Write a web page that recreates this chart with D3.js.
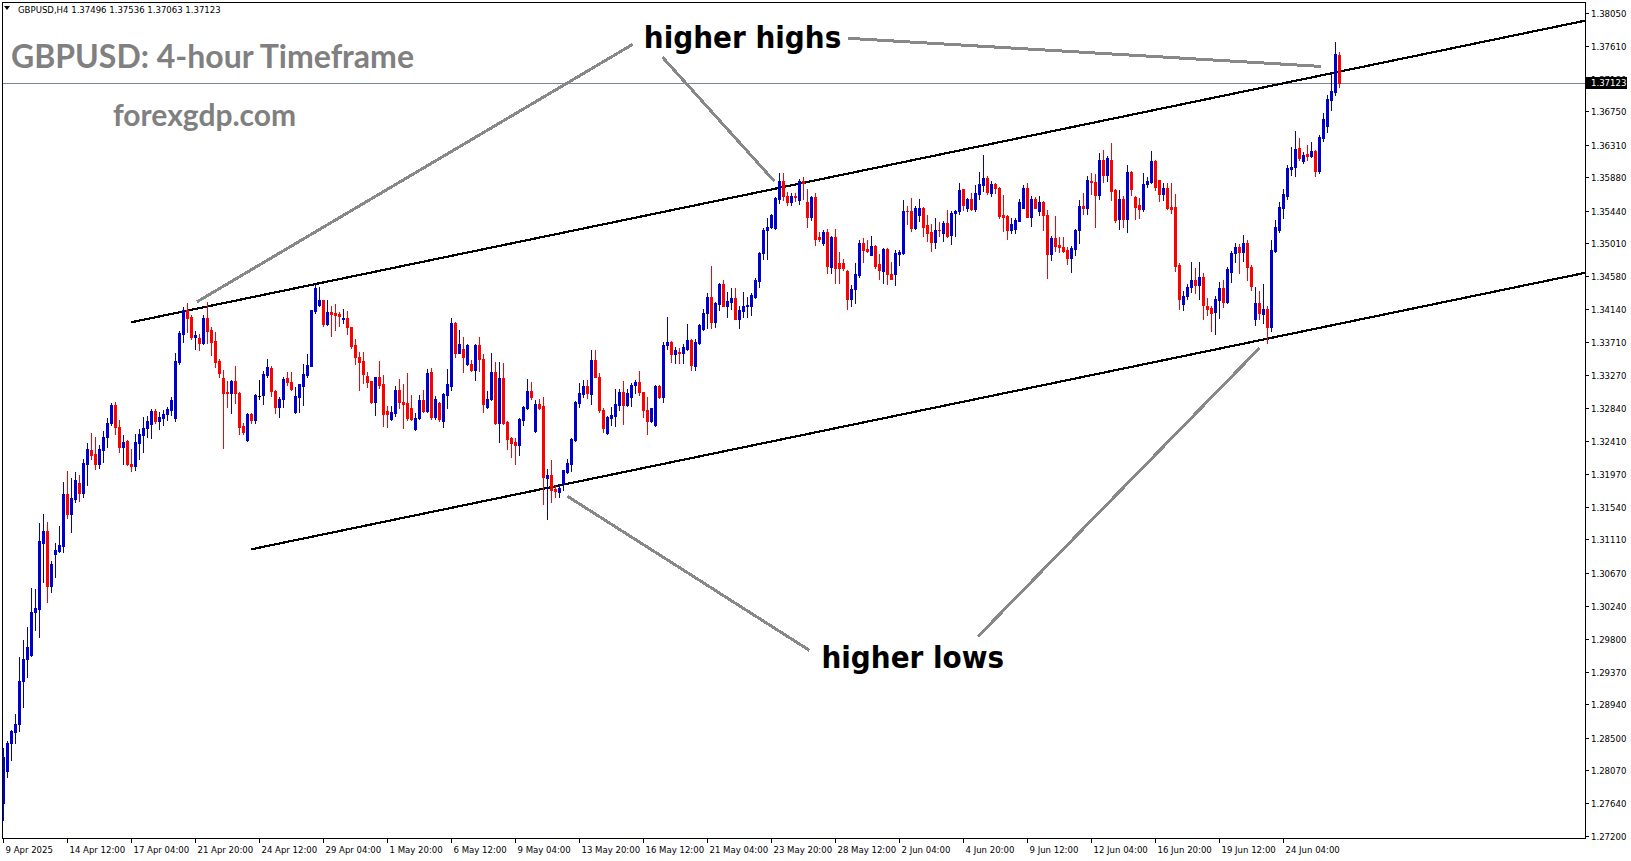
<!DOCTYPE html>
<html><head><meta charset="utf-8">
<script src="https://cdn.jsdelivr.net/npm/d3@7/dist/d3.min.js"></script>
<style>
html,body{margin:0;padding:0;background:#fff;overflow:hidden}
svg{display:block}
.ax{font-family:"DejaVu Sans Condensed","DejaVu Sans",sans-serif;font-stretch:condensed;font-size:9.5px;fill:#000}
</style></head><body>
<svg id="c" width="1631" height="861"></svg>
<script>
// ---- data (GBPUSD, H4) ----
const symbolHeader = "GBPUSD,H4  1.37496 1.37536 1.37063 1.37123";
const openP = [1.2764,1.2806,1.2843,1.2858,1.2868,1.2924,1.2953,1.2959,1.3015,1.3020,1.3106,1.3122,1.3050,1.3092,1.3096,1.3103,1.3171,1.3145,1.3164,1.3185,1.3172,1.3211,1.3229,1.3223,1.3211,1.3229,1.3246,1.3264,1.3288,1.3259,1.3233,1.3241,1.3211,1.3208,1.3238,1.3249,1.3258,1.3263,1.3280,1.3267,1.3271,1.3276,1.3282,1.3271,1.3345,1.3382,1.3413,1.3404,1.3378,1.3377,1.3370,1.3403,1.3387,1.3372,1.3346,1.3324,1.3305,1.3304,1.3320,1.3304,1.3261,1.3242,1.3276,1.3268,1.3300,1.3301,1.3328,1.3337,1.3307,1.3286,1.3296,1.3324,1.3319,1.3279,1.3299,1.3313,1.3328,1.3340,1.3412,1.3420,1.3426,1.3395,1.3411,1.3409,1.3408,1.3401,1.3403,1.3391,1.3367,1.3351,1.3346,1.3326,1.3320,1.3292,1.3325,1.3316,1.3280,1.3270,1.3278,1.3308,1.3292,1.3291,1.3284,1.3257,1.3271,1.3295,1.3280,1.3332,1.3272,1.3291,1.3267,1.3301,1.3313,1.3396,1.3357,1.3362,1.3342,1.3342,1.3334,1.3367,1.3349,1.3285,1.3296,1.3332,1.3264,1.3324,1.3266,1.3245,1.3239,1.3235,1.3268,1.3284,1.3307,1.3254,1.3289,1.3287,1.3192,1.3196,1.3178,1.3174,1.3184,1.3200,1.3210,1.3242,1.3291,1.3303,1.3313,1.3303,1.3347,1.3325,1.3282,1.3251,1.3271,1.3274,1.3288,1.3305,1.3288,1.3299,1.3314,1.3318,1.3305,1.3282,1.3267,1.3262,1.3313,1.3298,1.3367,1.3371,1.3355,1.3358,1.3356,1.3362,1.3374,1.3340,1.3370,1.3388,1.3409,1.3430,1.3397,1.3421,1.3447,1.3418,1.3424,1.3429,1.3402,1.3412,1.3418,1.3418,1.3430,1.3451,1.3488,1.3519,1.3522,1.3521,1.3560,1.3583,1.3564,1.3555,1.3564,1.3558,1.3583,1.3555,1.3536,1.3562,1.3509,1.3501,1.3516,1.3470,1.3509,1.3475,1.3475,1.3465,1.3428,1.3441,1.3459,1.3501,1.3494,1.3486,1.3498,1.3474,1.3465,1.3494,1.3461,1.3461,1.3487,1.3488,1.3544,1.3544,1.3521,1.3538,1.3548,1.3525,1.3516,1.3503,1.3519,1.3515,1.3528,1.3512,1.3541,1.3543,1.3572,1.3548,1.3560,1.3546,1.3566,1.3578,1.3587,1.3567,1.3579,1.3574,1.3538,1.3537,1.3519,1.3520,1.3531,1.3548,1.3574,1.3536,1.3559,1.3544,1.3555,1.3538,1.3487,1.3508,1.3499,1.3496,1.3492,1.3482,1.3494,1.3518,1.3550,1.3547,1.3583,1.3582,1.3565,1.3611,1.3591,1.3611,1.3571,1.3533,1.3559,1.3533,1.3595,1.3562,1.3551,1.3546,1.3579,1.3582,1.3610,1.3584,1.3566,1.3574,1.3549,1.3549,1.3472,1.3421,1.3431,1.3443,1.3453,1.3446,1.3457,1.3418,1.3416,1.3411,1.3426,1.3442,1.3424,1.3463,1.3488,1.3496,1.3490,1.3501,1.3470,1.3401,1.3422,1.3408,1.3414,1.3391,1.3491,1.3518,1.3548,1.3564,1.3599,1.3601,1.3627,1.3610,1.3619,1.3616,1.3623,1.3596,1.3640,1.3656,1.3690,1.3700,1.37496];
const highP = [1.2836,1.2846,1.2860,1.2881,1.2956,1.2979,1.2996,1.3047,1.3046,1.3133,1.3145,1.3134,1.3083,1.3106,1.3129,1.3187,1.3201,1.3192,1.3200,1.3196,1.3217,1.3238,1.3251,1.3246,1.3235,1.3254,1.3271,1.3291,1.3292,1.3268,1.3249,1.3242,1.3230,1.3250,1.3257,1.3272,1.3274,1.3283,1.3283,1.3279,1.3282,1.3285,1.3299,1.3357,1.3386,1.3417,1.3422,1.3407,1.3386,1.3382,1.3407,1.3424,1.3391,1.3384,1.3349,1.3334,1.3320,1.3321,1.3340,1.3305,1.3264,1.3278,1.3277,1.3303,1.3321,1.3333,1.3349,1.3340,1.3308,1.3299,1.3325,1.3332,1.3332,1.3312,1.3316,1.3342,1.3355,1.3413,1.3446,1.3444,1.3426,1.3426,1.3419,1.3421,1.3411,1.3415,1.3412,1.3391,1.3375,1.3358,1.3358,1.3332,1.3320,1.3325,1.3346,1.3328,1.3287,1.3287,1.3313,1.3322,1.3316,1.3330,1.3301,1.3278,1.3301,1.3308,1.3336,1.3337,1.3300,1.3292,1.3304,1.3336,1.3403,1.3397,1.3387,1.3378,1.3368,1.3347,1.3368,1.3378,1.3355,1.3307,1.3357,1.3345,1.3345,1.3343,1.3267,1.3246,1.3245,1.3271,1.3287,1.3322,1.3318,1.3295,1.3296,1.3299,1.3204,1.3216,1.3183,1.3184,1.3203,1.3217,1.3245,1.3293,1.3317,1.3321,1.3321,1.3361,1.3361,1.3330,1.3284,1.3274,1.3286,1.3309,1.3309,1.3320,1.3309,1.3317,1.3321,1.3333,1.3305,1.3298,1.3284,1.3314,1.3314,1.3371,1.3404,1.3372,1.3364,1.3363,1.3368,1.3395,1.3375,1.3375,1.3395,1.3415,1.3436,1.3471,1.3424,1.3449,1.3453,1.3437,1.3442,1.3442,1.3419,1.3437,1.3430,1.3436,1.3455,1.3490,1.3521,1.3534,1.3540,1.3562,1.3594,1.3594,1.3569,1.3567,1.3567,1.3586,1.3588,1.3573,1.3563,1.3567,1.3516,1.3519,1.3520,1.3511,1.3520,1.3490,1.3480,1.3466,1.3446,1.3475,1.3505,1.3508,1.3506,1.3511,1.3499,1.3487,1.3495,1.3495,1.3476,1.3492,1.3492,1.3558,1.3550,1.3561,1.3550,1.3559,1.3549,1.3538,1.3526,1.3534,1.3529,1.3530,1.3545,1.3544,1.3545,1.3580,1.3573,1.3561,1.3567,1.3578,1.3595,1.3617,1.3590,1.3583,1.3581,1.3575,1.3565,1.3538,1.3534,1.3534,1.3560,1.3578,1.3581,1.3564,1.3562,1.3564,1.3557,1.3545,1.3511,1.3537,1.3510,1.3510,1.3496,1.3497,1.3520,1.3558,1.3567,1.3590,1.3594,1.3592,1.3620,1.3624,1.3616,1.3633,1.3573,1.3571,1.3563,1.3604,1.3596,1.3563,1.3561,1.3594,1.3588,1.3623,1.3611,1.3585,1.3580,1.3580,1.3580,1.3566,1.3475,1.3438,1.3448,1.3476,1.3469,1.3476,1.3462,1.3429,1.3419,1.3432,1.3450,1.3453,1.3470,1.3491,1.3501,1.3500,1.3512,1.3506,1.3472,1.3443,1.3438,1.3448,1.3418,1.3506,1.3532,1.3555,1.3573,1.3604,1.3628,1.3649,1.3640,1.3621,1.3630,1.3635,1.3624,1.3644,1.3673,1.3696,1.3725,1.3766,1.37536];
const lowP = [1.2742,1.2798,1.2820,1.2843,1.2859,1.2890,1.2930,1.2958,1.2992,1.2983,1.3055,1.3029,1.3042,1.3062,1.3094,1.3095,1.3139,1.3121,1.3161,1.3162,1.3167,1.3183,1.3217,1.3204,1.3205,1.3213,1.3233,1.3262,1.3250,1.3226,1.3210,1.3209,1.3201,1.3203,1.3217,1.3226,1.3246,1.3245,1.3264,1.3257,1.3262,1.3268,1.3275,1.3267,1.3342,1.3371,1.3384,1.3375,1.3362,1.3361,1.3368,1.3370,1.3354,1.3338,1.3325,1.3232,1.3286,1.3278,1.3291,1.3250,1.3250,1.3241,1.3264,1.3264,1.3296,1.3289,1.3325,1.3300,1.3278,1.3272,1.3286,1.3314,1.3308,1.3278,1.3279,1.3288,1.3325,1.3339,1.3409,1.3419,1.3392,1.3394,1.3379,1.3387,1.3392,1.3396,1.3382,1.3363,1.3342,1.3308,1.3317,1.3312,1.3291,1.3275,1.3310,1.3261,1.3259,1.3269,1.3274,1.3284,1.3258,1.3268,1.3269,1.3255,1.3270,1.3279,1.3279,1.3270,1.3270,1.3267,1.3259,1.3284,1.3308,1.3351,1.3356,1.3332,1.3341,1.3333,1.3321,1.3333,1.3279,1.3284,1.3295,1.3263,1.3239,1.3263,1.3230,1.3220,1.3210,1.3222,1.3262,1.3283,1.3296,1.3253,1.3283,1.3158,1.3138,1.3160,1.3167,1.3167,1.3176,1.3199,1.3201,1.3241,1.3286,1.3299,1.3297,1.3289,1.3325,1.3279,1.3252,1.3250,1.3262,1.3261,1.3281,1.3263,1.3287,1.3287,1.3304,1.3301,1.3272,1.3250,1.3266,1.3261,1.3297,1.3292,1.3362,1.3345,1.3344,1.3344,1.3344,1.3361,1.3334,1.3334,1.3369,1.3387,1.3389,1.3389,1.3391,1.3413,1.3418,1.3404,1.3415,1.3401,1.3390,1.3404,1.3404,1.3407,1.3429,1.3444,1.3480,1.3480,1.3521,1.3520,1.3554,1.3558,1.3552,1.3552,1.3557,1.3553,1.3559,1.3522,1.3532,1.3499,1.3504,1.3499,1.3462,1.3462,1.3449,1.3449,1.3466,1.3415,1.3418,1.3422,1.3457,1.3476,1.3490,1.3485,1.3469,1.3454,1.3449,1.3448,1.3454,1.3446,1.3472,1.3487,1.3526,1.3517,1.3520,1.3530,1.3511,1.3504,1.3491,1.3495,1.3511,1.3504,1.3510,1.3500,1.3511,1.3540,1.3545,1.3543,1.3545,1.3543,1.3560,1.3570,1.3566,1.3563,1.3567,1.3534,1.3517,1.3507,1.3515,1.3515,1.3530,1.3547,1.3536,1.3524,1.3547,1.3538,1.3519,1.3455,1.3479,1.3491,1.3490,1.3490,1.3474,1.3463,1.3485,1.3502,1.3540,1.3540,1.3566,1.3522,1.3559,1.3582,1.3583,1.3558,1.3529,1.3520,1.3523,1.3516,1.3565,1.3533,1.3534,1.3543,1.3575,1.3580,1.3571,1.3557,1.3558,1.3546,1.3541,1.3465,1.3415,1.3413,1.3428,1.3437,1.3436,1.3428,1.3401,1.3407,1.3386,1.3382,1.3403,1.3417,1.3423,1.3450,1.3476,1.3462,1.3478,1.3453,1.3440,1.3394,1.3401,1.3396,1.3370,1.3386,1.3489,1.3516,1.3534,1.3559,1.3591,1.3590,1.3611,1.3607,1.3611,1.3615,1.3590,1.3594,1.3636,1.3648,1.3677,1.3697,1.37063];
const closeP = [1.2825,1.2843,1.2859,1.2868,1.2925,1.2954,1.2969,1.3016,1.3021,1.3109,1.3122,1.3050,1.3079,1.3097,1.3104,1.3171,1.3145,1.3166,1.3189,1.3172,1.3212,1.3230,1.3222,1.3211,1.3230,1.3246,1.3264,1.3288,1.3259,1.3233,1.3239,1.3210,1.3208,1.3239,1.3250,1.3258,1.3267,1.3280,1.3267,1.3272,1.3276,1.3283,1.3295,1.3346,1.3383,1.3413,1.3403,1.3378,1.3380,1.3370,1.3403,1.3386,1.3371,1.3345,1.3330,1.3304,1.3304,1.3320,1.3304,1.3259,1.3252,1.3276,1.3268,1.3301,1.3300,1.3329,1.3338,1.3307,1.3286,1.3296,1.3322,1.3318,1.3309,1.3300,1.3316,1.3329,1.3341,1.3413,1.3442,1.3426,1.3395,1.3411,1.3408,1.3407,1.3405,1.3403,1.3391,1.3366,1.3351,1.3345,1.3329,1.3318,1.3292,1.3325,1.3314,1.3276,1.3276,1.3279,1.3308,1.3292,1.3289,1.3271,1.3270,1.3271,1.3295,1.3280,1.3330,1.3272,1.3296,1.3270,1.3303,1.3316,1.3396,1.3357,1.3368,1.3351,1.3367,1.3334,1.3367,1.3349,1.3289,1.3296,1.3332,1.3264,1.3324,1.3264,1.3243,1.3238,1.3235,1.3270,1.3286,1.3307,1.3299,1.3289,1.3284,1.3193,1.3196,1.3176,1.3175,1.3179,1.3202,1.3212,1.3243,1.3292,1.3304,1.3313,1.3304,1.3347,1.3325,1.3282,1.3258,1.3272,1.3275,1.3289,1.3305,1.3288,1.3304,1.3314,1.3318,1.3305,1.3282,1.3267,1.3284,1.3313,1.3298,1.3367,1.3371,1.3355,1.3361,1.3357,1.3364,1.3374,1.3341,1.3371,1.3394,1.3409,1.3430,1.3397,1.3422,1.3447,1.3419,1.3425,1.3429,1.3402,1.3413,1.3419,1.3420,1.3433,1.3453,1.3488,1.3519,1.3523,1.3538,1.3561,1.3583,1.3563,1.3555,1.3563,1.3562,1.3583,1.3580,1.3536,1.3562,1.3507,1.3507,1.3516,1.3471,1.3509,1.3469,1.3469,1.3469,1.3428,1.3441,1.3461,1.3501,1.3492,1.3491,1.3498,1.3471,1.3466,1.3493,1.3460,1.3454,1.3488,1.3490,1.3544,1.3543,1.3521,1.3548,1.3548,1.3523,1.3515,1.3503,1.3519,1.3518,1.3528,1.3511,1.3541,1.3544,1.3571,1.3551,1.3560,1.3546,1.3567,1.3579,1.3587,1.3568,1.3579,1.3574,1.3537,1.3536,1.3519,1.3526,1.3532,1.3555,1.3574,1.3536,1.3559,1.3548,1.3555,1.3538,1.3487,1.3508,1.3498,1.3496,1.3491,1.3482,1.3495,1.3519,1.3550,1.3547,1.3584,1.3582,1.3565,1.3611,1.3591,1.3613,1.3570,1.3532,1.3559,1.3533,1.3595,1.3572,1.3549,1.3546,1.3579,1.3583,1.3610,1.3575,1.3566,1.3574,1.3548,1.3546,1.3471,1.3428,1.3432,1.3444,1.3453,1.3446,1.3457,1.3420,1.3415,1.3409,1.3428,1.3442,1.3424,1.3467,1.3488,1.3496,1.3490,1.3501,1.3470,1.3445,1.3422,1.3409,1.3414,1.3391,1.3492,1.3523,1.3549,1.3566,1.3600,1.3602,1.3625,1.3613,1.3617,1.3616,1.3623,1.3596,1.3641,1.3665,1.3691,1.3702,1.3750,1.37123];
const lastPrice = 1.37123;
const xTickBars = [0,16,32,48,64,80,96,112,128,144,160,176,192,208,224,240,256,272,288,304,320];
const xTickLabels = ["9 Apr 2025","14 Apr 12:00","17 Apr 04:00","21 Apr 20:00","24 Apr 12:00","29 Apr 04:00","1 May 20:00","6 May 12:00","9 May 04:00","13 May 20:00","16 May 12:00","21 May 04:00","23 May 20:00","28 May 12:00","2 Jun 04:00","4 Jun 20:00","9 Jun 12:00","12 Jun 04:00","16 Jun 20:00","19 Jun 12:00","24 Jun 04:00"];
const yTickValues = [1.38050,1.37610,1.37180,1.36750,1.36310,1.35880,1.35440,1.35010,1.34580,1.34140,1.33710,1.33270,1.32840,1.32410,1.31970,1.31540,1.31110,1.30670,1.30240,1.29800,1.29370,1.28940,1.28500,1.28070,1.27640,1.27200];
// trend lines: two anchors [bar, price], drawn as rays to the right edge
const upperTrend = [[32,1.3397],[334,1.3727]];
const lowerTrend = [[62,1.3098],[334,1.3395]];
// annotation pointers [[bar,price],[bar,price]]
const pointers = [
  [[157.4,1.3763],[48.5,1.3424]],
  [[164.9,1.3746],[192.8,1.3583]],
  [[211.3,1.3771],[329.5,1.3734]],
  [[201.6,1.2965],[141.1,1.3168]],
  [[243.7,1.2983],[314.1,1.3363]]
];
const notes = [{text:"higher highs", bar:160.2, price:1.3758},{text:"higher lows", bar:204.6, price:1.2942}];

// ---- layout ----
const L = 2, R = 1585, T = 2, B = 838;
const svg = d3.select("#c");
const x = d3.scaleLinear().domain([0, 100]).range([3, 403]);
const y = d3.scaleLinear().domain([1.27200, 1.38050]).range([836.4, 12.5]);
const xMaxBar = x.invert(R);

svg.append("rect").attr("width",1631).attr("height",861).attr("fill","#fff");
const defs = svg.append("defs");
defs.append("clipPath").attr("id","plot").append("rect").attr("x",L).attr("y",T).attr("width",R-L).attr("height",B-T);

const g = svg.append("g").attr("clip-path","url(#plot)");

// bid line
g.append("line").attr("x1",L).attr("x2",R).attr("y1",Math.round(y(lastPrice))+0.5).attr("y2",Math.round(y(lastPrice))+0.5)
  .attr("stroke","#778899").attr("stroke-width",1);

// trend lines
function ray(a){
  const s = (a[1][1]-a[0][1])/(a[1][0]-a[0][0]);
  return [[a[0][0],a[0][1]],[xMaxBar, a[0][1]+s*(xMaxBar-a[0][0])]];
}
[upperTrend, lowerTrend].forEach(t=>{
  const r = ray(t);
  g.append("line").attr("x1",x(r[0][0])).attr("y1",y(r[0][1])).attr("x2",x(r[1][0])).attr("y2",y(r[1][1]))
   .attr("stroke","#000").attr("stroke-width",2.2).attr("shape-rendering","crispEdges");
});

// candles
const idx = d3.range(openP.length);
const col = i => closeP[i] > openP[i] ? "#0000cd" : (closeP[i] < openP[i] ? "#ff0000" : "#000000");
const cg = g.append("g").attr("shape-rendering","crispEdges");
idx.forEach(i=>{
  const cx = Math.round(x(i));
  const hi = Math.max(highP[i],openP[i],closeP[i]), lo = Math.min(lowP[i],openP[i],closeP[i]);
  const yh = Math.round(y(hi)), yl = Math.round(y(lo));
  cg.append("rect").attr("x",cx).attr("y",yh).attr("width",1).attr("height",Math.max(1,yl-yh+1)).attr("fill",col(i));
  const yo = Math.round(y(openP[i])), yc = Math.round(y(closeP[i]));
  const top = Math.min(yo,yc), h = Math.abs(yo-yc);
  cg.append("rect").attr("x",cx-1).attr("y",top).attr("width",3).attr("height",Math.max(1,h+1)).attr("fill",col(i));
});

// annotation pointers
pointers.forEach(p=>{
  g.append("line").attr("x1",x(p[0][0])).attr("y1",y(p[0][1])).attr("x2",x(p[1][0])).attr("y2",y(p[1][1]))
   .attr("stroke","#888888").attr("stroke-width",3).attr("shape-rendering","crispEdges");
});
notes.forEach(n=>{
  svg.append("text").attr("x",x(n.bar)).attr("y",y(n.price)).text(n.text)
   .attr("font-family","'DejaVu Sans Condensed','DejaVu Sans',sans-serif").attr("font-stretch","condensed")
   .attr("font-weight","bold").attr("font-size",31).attr("fill","#000");
});

// title & watermark
svg.append("text").attr("x",11).attr("y",68).text("GBPUSD: 4-hour Timeframe")
  .attr("font-family","Lato, sans-serif").attr("font-weight","bold").attr("font-size",32).attr("fill","#808080");
svg.append("text").attr("x",113).attr("y",126).text("forexgdp.com")
  .attr("font-family","Lato, sans-serif").attr("font-weight","bold").attr("font-size",30).attr("fill","#808080");

// frame
const fr = svg.append("g").attr("shape-rendering","crispEdges").attr("stroke","#000").attr("fill","none");
fr.append("rect").attr("x",L+0.5).attr("y",T+0.5).attr("width",R-L).attr("height",B-T);

// header
svg.append("path").attr("d","M4,6 L10,6 L7,10 Z").attr("fill","#000");
svg.append("text").attr("class","ax").attr("x",18).attr("y",13).text(symbolHeader);

// y axis ticks & labels
const ya = svg.append("g");
yTickValues.forEach(v=>{
  const yy = Math.round(y(v))+0.5;
  ya.append("line").attr("x1",R).attr("x2",R+4).attr("y1",yy).attr("y2",yy).attr("stroke","#000").attr("shape-rendering","crispEdges");
  ya.append("text").attr("class","ax").attr("x",R+6).attr("y",yy).attr("dy","0.35em").text(v.toFixed(5));
});
// current price box (drawn over the grid label it hides, as in the terminal)
const py = y(lastPrice);
ya.append("rect").attr("x",R+1).attr("y",Math.round(py)-6).attr("width",41).attr("height",12).attr("fill","#000");
ya.append("text").attr("class","ax").attr("x",R+6).attr("y",Math.round(py)).attr("dy","0.35em").style("fill","#fff").text(lastPrice.toFixed(5));

// x axis ticks & labels
const xa = svg.append("g");
xTickBars.forEach((b,k)=>{
  const xx = Math.round(x(b))+0.5;
  xa.append("line").attr("x1",xx).attr("x2",xx).attr("y1",B).attr("y2",B+5).attr("stroke","#000").attr("shape-rendering","crispEdges");
  xa.append("text").attr("class","ax").attr("x",xx+2).attr("y",B+15).text(xTickLabels[k]);
});
</script>
</body></html>
